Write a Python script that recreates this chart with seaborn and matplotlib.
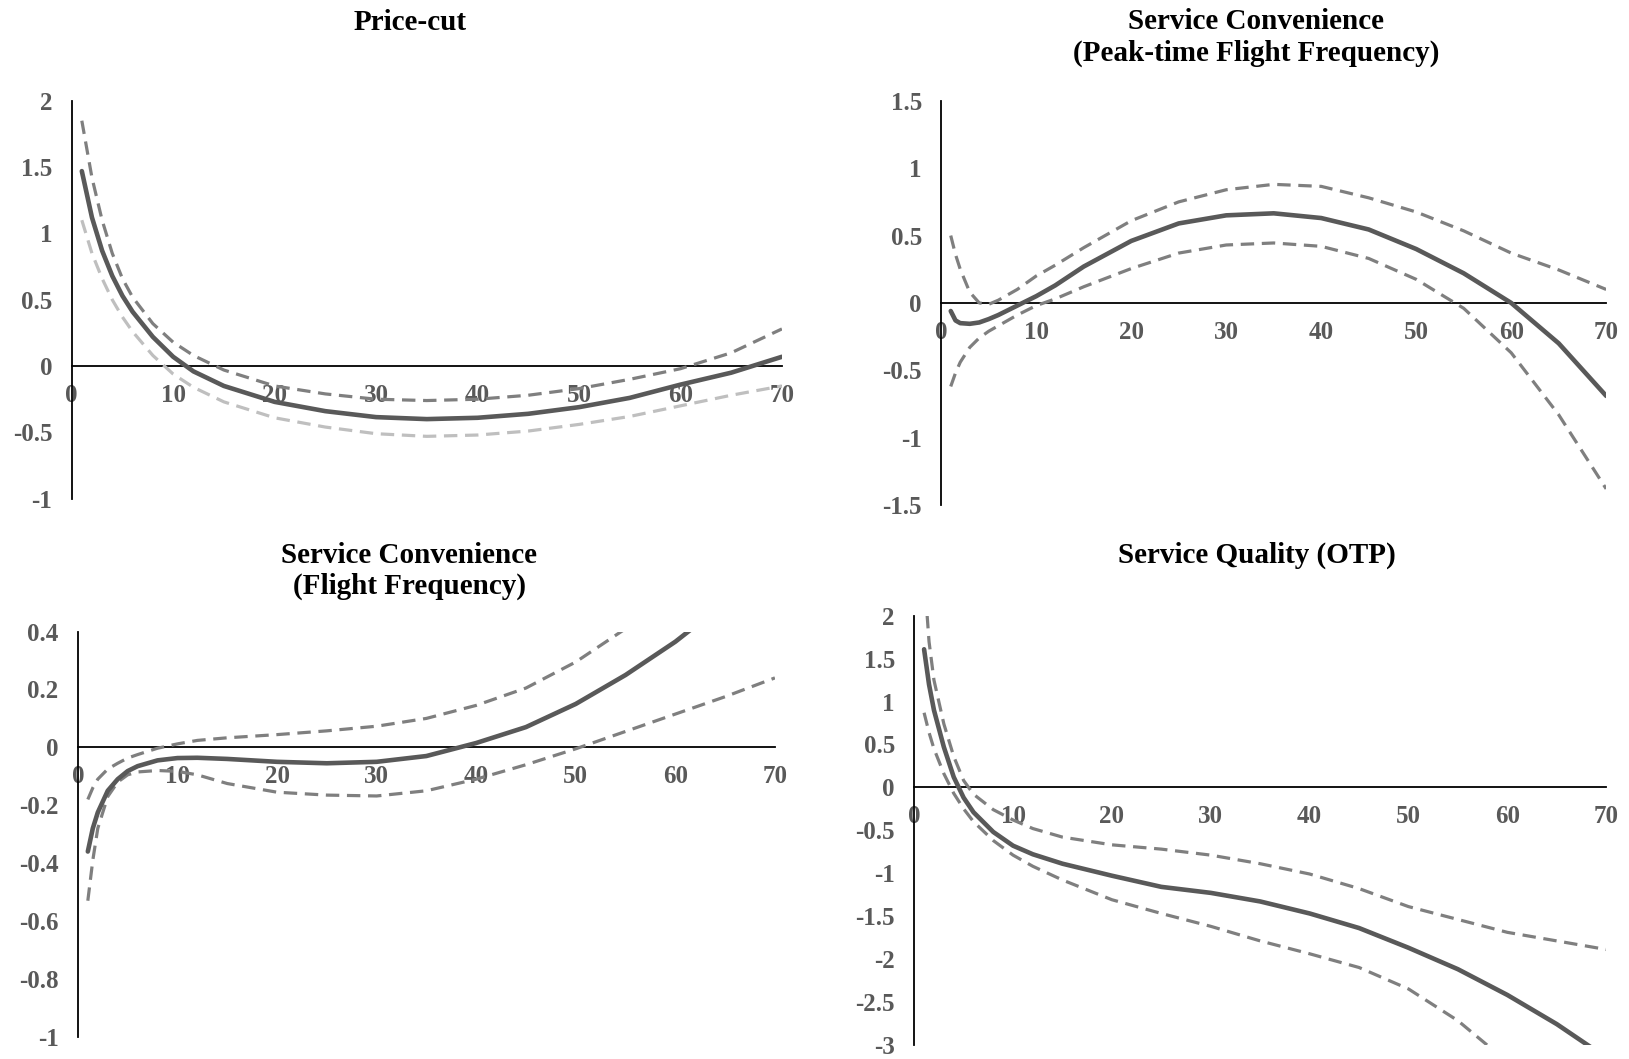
import matplotlib
matplotlib.use("Agg")
import matplotlib.pyplot as plt
import seaborn as sns

# ===== DATA =====

# Price-cut
x_price = [1, 2, 3, 4, 5, 6, 8, 10, 12, 15, 20, 25, 30, 35, 40, 45, 50, 55, 60, 65, 70]
price_est = [1.47, 1.12, 0.87, 0.68, 0.53, 0.41, 0.22, 0.07, -0.04, -0.15, -0.27, -0.34,
             -0.385, -0.40, -0.39, -0.36, -0.31, -0.24, -0.14, -0.05, 0.07]
price_hi = [1.85, 1.42, 1.10, 0.85, 0.66, 0.52, 0.32, 0.18, 0.08, -0.03, -0.15, -0.21,
            -0.25, -0.26, -0.25, -0.22, -0.17, -0.10, -0.02, 0.10, 0.28]
price_lo = [1.10, 0.85, 0.66, 0.50, 0.37, 0.26, 0.08, -0.06, -0.16, -0.27, -0.39, -0.46,
            -0.51, -0.53, -0.52, -0.49, -0.44, -0.38, -0.30, -0.22, -0.15]

# Service Convenience (Peak-time Flight Frequency)
x_peak = [1, 1.5, 2, 3, 4, 5, 6, 8, 10, 12, 15, 20, 25, 30, 35, 40, 45, 50, 55, 60, 65, 70]
peak_est = [-0.06, -0.13, -0.15, -0.155, -0.145, -0.12, -0.09, -0.02, 0.05, 0.13, 0.27, 0.46,
            0.59, 0.65, 0.665, 0.63, 0.545, 0.40, 0.22, 0.0, -0.30, -0.69]
peak_hi = [0.50, 0.36, 0.25, 0.08, 0.0, -0.01, 0.02, 0.10, 0.20, 0.28, 0.41, 0.61,
           0.75, 0.84, 0.88, 0.865, 0.78, 0.675, 0.535, 0.37, 0.245, 0.10]
peak_lo = [-0.62, -0.52, -0.44, -0.33, -0.26, -0.21, -0.17, -0.09, -0.02, 0.03, 0.12, 0.255,
           0.37, 0.43, 0.445, 0.42, 0.33, 0.175, -0.04, -0.37, -0.83, -1.38]

# Service Convenience (Flight Frequency)
x_freq = [1, 1.5, 2, 3, 4, 5, 6, 8, 10, 12, 15, 20, 25, 30, 35, 40, 45, 50, 55, 60, 65, 70]
freq_est = [-0.36, -0.28, -0.225, -0.15, -0.11, -0.082, -0.065, -0.045, -0.037, -0.036, -0.04,
            -0.05, -0.055, -0.05, -0.03, 0.015, 0.07, 0.15, 0.25, 0.365, 0.50, 0.65]
freq_hi = [-0.18, -0.14, -0.11, -0.075, -0.055, -0.037, -0.025, -0.003, 0.012, 0.024, 0.033,
           0.044, 0.057, 0.073, 0.10, 0.145, 0.205, 0.295, 0.41, 0.56, 0.75, 0.98]
freq_lo = [-0.53, -0.39, -0.28, -0.17, -0.12, -0.095, -0.085, -0.08, -0.083, -0.095, -0.125,
           -0.155, -0.165, -0.168, -0.15, -0.11, -0.06, -0.005, 0.055, 0.115, 0.175, 0.24]

# Service Quality (OTP)
x_otp = [1, 1.5, 2, 3, 4, 5, 6, 8, 10, 12, 15, 20, 25, 30, 35, 40, 45, 50, 55, 60, 65, 70]
otp_est = [1.61, 1.20, 0.90, 0.47, 0.12, -0.12, -0.29, -0.52, -0.68, -0.78, -0.89, -1.03,
           -1.16, -1.23, -1.33, -1.47, -1.64, -1.87, -2.12, -2.42, -2.76, -3.15]
otp_hi = [2.5, 1.70, 1.25, 0.74, 0.36, 0.08, -0.08, -0.26, -0.38, -0.48, -0.58, -0.67,
          -0.72, -0.79, -0.89, -1.01, -1.18, -1.39, -1.54, -1.69, -1.79, -1.89]
otp_lo = [0.87, 0.64, 0.45, 0.16, -0.07, -0.25, -0.40, -0.62, -0.79, -0.92, -1.08, -1.31,
          -1.47, -1.62, -1.79, -1.94, -2.10, -2.35, -2.72, -3.2, -3.7, -4.2]

x_ticks = [0, 10, 20, 30, 40, 50, 60, 70]

price_yticks = [2, 1.5, 1, 0.5, 0, -0.5, -1]
price_ylabels = ["2", "1.5", "1", "0.5", "0", "-0.5", "-1"]
peak_yticks = [1.5, 1, 0.5, 0, -0.5, -1, -1.5]
peak_ylabels = ["1.5", "1", "0.5", "0", "-0.5", "-1", "-1.5"]
freq_yticks = [0.4, 0.2, 0, -0.2, -0.4, -0.6, -0.8, -1]
freq_ylabels = ["0.4", "0.2", "0", "-0.2", "-0.4", "-0.6", "-0.8", "-1"]
otp_yticks = [2, 1.5, 1, 0.5, 0, -0.5, -1, -1.5, -2, -2.5, -3]
otp_ylabels = ["2", "1.5", "1", "0.5", "0", "-0.5", "-1", "-1.5", "-2", "-2.5", "-3"]

# ===== STYLE =====

sns.set_style("white")
plt.rcParams["font.family"] = ["Liberation Serif", "DejaVu Serif"]
plt.rcParams["axes.unicode_minus"] = False

SOLID = "#595959"
DASH = "#7f7f7f"
LIGHT = "#bfbfbf"
DASHES = (0, (4.2, 2.4))

fig = plt.figure(figsize=(16.29, 10.59), dpi=100)


def setup(ax, ylim, yticks, ylabels):
    ax.set_xlim(0, 70)
    ax.set_ylim(*ylim)
    for s in ["top", "right"]:
        ax.spines[s].set_visible(False)
    ax.spines["bottom"].set_position(("data", 0))
    ax.spines["left"].set_position(("data", 0))
    for s in ["bottom", "left"]:
        ax.spines[s].set_color("black")
        ax.spines[s].set_linewidth(1.3)
        ax.spines[s].set_zorder(1)
    ax.set_xticks(x_ticks)
    ax.set_xticklabels([str(t) for t in x_ticks])
    ax.set_yticks(yticks)
    ax.set_yticklabels(ylabels)
    ax.tick_params(axis="x", length=0, pad=13, labelsize=18, labelcolor=SOLID)
    ax.tick_params(axis="y", length=0, pad=14, labelsize=18, labelcolor=SOLID)
    for lab in ax.get_xticklabels() + ax.get_yticklabels():
        lab.set_fontweight("bold")
    ax.set_xlabel("")
    ax.set_ylabel("")
    ax.patch.set_alpha(0)


def draw(ax, x, est, hi, lo, lo_color=DASH):
    sns.lineplot(x=x, y=hi, ax=ax, color=DASH, linewidth=2.3, linestyle=DASHES, zorder=3)
    sns.lineplot(x=x, y=lo, ax=ax, color=lo_color, linewidth=2.3, linestyle=DASHES, zorder=3)
    sns.lineplot(x=x, y=est, ax=ax, color=SOLID, linewidth=3.3, zorder=4)


ax1 = fig.add_axes([0.0440, 0.5291, 0.4360, 0.3757])
draw(ax1, x_price, price_est, price_hi, price_lo, lo_color=LIGHT)
setup(ax1, (-1, 2), price_yticks, price_ylabels)

ax2 = fig.add_axes([0.5778, 0.5231, 0.4082, 0.3817])
draw(ax2, x_peak, peak_est, peak_hi, peak_lo)
setup(ax2, (-1.5, 1.5), peak_yticks, peak_ylabels)

ax3 = fig.add_axes([0.0478, 0.0210, 0.4279, 0.3826])
draw(ax3, x_freq, freq_est, freq_hi, freq_lo)
setup(ax3, (-1, 0.4), freq_yticks, freq_ylabels)

ax4 = fig.add_axes([0.5612, 0.0135, 0.4248, 0.4050])
draw(ax4, x_otp, otp_est, otp_hi, otp_lo)
setup(ax4, (-3, 2), otp_yticks, otp_ylabels)

# titles
tkw = dict(ha="center", va="center", fontsize=21, fontweight="bold",
           color="black", linespacing=1.22)
fig.text(0.2517, 0.9792, "Price-cut", **tkw)
fig.text(0.7710, 0.9646, "Service Convenience\n(Peak-time Flight Frequency)", **tkw)
fig.text(0.2511, 0.4608, "Service Convenience\n(Flight Frequency)", **tkw)
fig.text(0.7716, 0.4759, "Service Quality (OTP)", **tkw)

fig.savefig("out.png", dpi=100)
print("SAVED")
